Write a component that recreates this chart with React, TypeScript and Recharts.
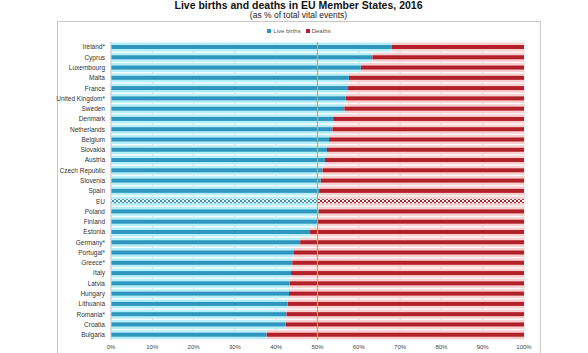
import React from "react";
import { BarChart, Bar, XAxis, YAxis, CartesianGrid, ReferenceLine } from "recharts";

const countries = [
  "Ireland*", "Cyprus", "Luxembourg", "Malta", "France", "United Kingdom*", "Sweden",
  "Denmark", "Netherlands", "Belgium", "Slovakia", "Austria", "Czech Republic", "Slovenia",
  "Spain", "EU", "Poland", "Finland", "Estonia", "Germany*", "Portugal*", "Greece*", "Italy",
  "Latvia", "Hungary", "Lithuania", "Romania*", "Croatia", "Bulgaria",
];

const liveBirths = [
  67.9, 63.3, 60.5, 57.6, 57.4, 56.8, 56.5, 53.8, 53.6, 52.8, 52.3, 51.8, 51.2, 50.8,
  50.4, 50.1, 50.3, 49.9, 48.2, 45.8, 44.3, 43.9, 43.6, 43.3, 43.1, 42.8, 42.5, 42.3, 37.7,
];

const deaths = [
  32.1, 36.7, 39.5, 42.4, 42.6, 43.2, 43.5, 46.2, 46.4, 47.2, 47.7, 48.2, 48.8, 49.2,
  49.6, 49.9, 49.7, 50.1, 51.8, 54.2, 55.7, 56.1, 56.4, 56.7, 56.9, 57.2, 57.5, 57.7, 62.3,
];

const xTicks = [0, 10, 20, 30, 40, 50, 60, 70, 80, 90, 100];

const data = countries.map((name, i) => ({ name, births: liveBirths[i], deaths: deaths[i] }));

const BLUE = "#2f97bf";
const BLUE_LIGHT = "#b6eef9";
const RED = "#b2202a";
const RED_LIGHT = "#f9cfcf";

function StripeBar(props: any) {
  const { x, y, width, height, payload, dark, light, id } = props;
  if (!width || width <= 0) return null;
  const cy = y + height / 2;
  const isEU = payload && payload.name === "EU";
  return (
    <g>
      <rect x={x} y={cy - 4.5} width={width} height={9} fill={light} />
      {isEU ? (
        <>
          <defs>
            <pattern id={id} width={4} height={4} patternUnits="userSpaceOnUse">
              <rect x={0} y={0} width={4} height={4} fill="#ffffff" />
              <rect x={0} y={0} width={2} height={2} fill={dark} />
              <rect x={2} y={2} width={2} height={2} fill={dark} />
            </pattern>
          </defs>
          <rect x={x} y={cy - 2} width={width} height={4} fill={`url(#${id})`} />
        </>
      ) : (
        <rect x={x} y={cy - 2} width={width} height={4} fill={dark} />
      )}
    </g>
  );
}

function CountryTick(props: any) {
  const { x, y, payload } = props;
  return (
    <text x={x} y={y} dy="0.35em" textAnchor="end" fontSize={6.5} fill="#333">
      {payload.value}
    </text>
  );
}

export default function App() {
  return (
    <div
      style={{
        position: "fixed",
        left: 0,
        top: 0,
        width: 588,
        height: 353,
        overflow: "hidden",
        background: "#fff",
        fontFamily: "'Liberation Sans', Arial, sans-serif",
      }}
    >
      <div
        style={{
          position: "absolute",
          left: 57,
          top: 21,
          width: 482,
          height: 345,
          border: "1px solid #c8c8c8",
        }}
      />
      <div
        style={{
          position: "absolute",
          left: 0,
          width: 597,
          top: 0,
          lineHeight: "11px",
          textAlign: "center",
          fontSize: 10.5,
          fontWeight: "bold",
          color: "#111",
        }}
      >
        Live births and deaths in EU Member States, 2016
      </div>
      <div
        style={{
          position: "absolute",
          left: 0,
          width: 597,
          top: 10,
          lineHeight: "11px",
          textAlign: "center",
          fontSize: 8.5,
          color: "#222",
        }}
      >
        (as % of total vital events)
      </div>
      <div
        style={{
          position: "absolute",
          left: 0,
          width: 598,
          top: 27,
          lineHeight: "8px",
          textAlign: "center",
          fontSize: 6,
          color: "#555",
        }}
      >
        <span style={{ display: "inline-block", width: 4, height: 4, background: BLUE, marginRight: 2 }} />
        Live births
        <span style={{ display: "inline-block", width: 4, height: 4, background: RED, marginLeft: 5, marginRight: 2 }} />
        Deaths
      </div>
      <div style={{ position: "absolute", left: 0, top: 0 }}>
        <BarChart
          width={588}
          height={353}
          data={data}
          layout="vertical"
          margin={{ top: 42, right: 64, bottom: 0, left: 0 }}
          barCategoryGap={0}
        >
          <CartesianGrid horizontal={false} stroke="#dcdcdc" />
          <XAxis
            type="number"
            domain={[0, 100]}
            ticks={xTicks}
            tickFormatter={(v: number) => `${v}%`}
            height={13}
            tickLine={false}
            tickSize={0}
            tickMargin={5}
            axisLine={false}
            interval={0}
            tick={{ fontSize: 6, fill: "#444" }}
          />
          <YAxis
            type="category"
            dataKey="name"
            width={111}
            tickLine={false}
            tickSize={0}
            tickMargin={6}
            interval={0}
            axisLine={{ stroke: "#d0d0d0" }}
            tick={<CountryTick />}
          />
          <Bar
            dataKey="births"
            name="Live births"
            stackId="a"
            isAnimationActive={false}
            shape={(p: any) => <StripeBar {...p} dark={BLUE} light={BLUE_LIGHT} id="euBlue" />}
          />
          <Bar
            dataKey="deaths"
            name="Deaths"
            stackId="a"
            isAnimationActive={false}
            shape={(p: any) => <StripeBar {...p} dark={RED} light={RED_LIGHT} id="euRed" />}
          />
          <ReferenceLine x={50} stroke="#e3a13a" strokeWidth={1.2} />
        </BarChart>
      </div>
    </div>
  );
}
